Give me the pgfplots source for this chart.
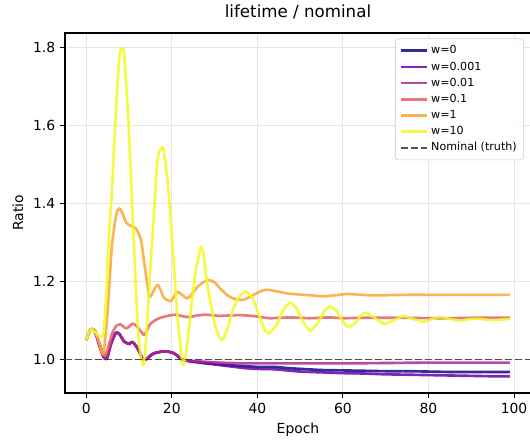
\documentclass[border=0pt]{standalone}
\usepackage{pgfplots}
\pgfplotsset{compat=1.18}
\usepackage{fontspec}
\setmainfont{DejaVu Sans}
\definecolor{c0}{HTML}{0D0887}
\definecolor{c1}{HTML}{6A00A8}
\definecolor{c2}{HTML}{B12A90}
\definecolor{c3}{HTML}{E16462}
\definecolor{c4}{HTML}{FCA636}
\definecolor{c5}{HTML}{F0F921}
\definecolor{gridc}{HTML}{E6E6E6}
\begin{document}
\begin{tikzpicture}[x=1pt,y=1pt]
\path[use as bounding box] (-46.8,-33.84) rectangle (334.8,282.96);
\begin{axis}[
  at={(0,0)}, anchor=south west,
  scale only axis, width=335.5pt, height=259.2pt,
  xmin=-4.95, xmax=103.95, ymin=0.914, ymax=1.838,
  xtick={0,20,40,60,80,100},
  ytick={1.0,1.2,1.4,1.6,1.8},
  yticklabel style={/pgf/number format/.cd, fixed, fixed zerofill, precision=1},
  /pgf/number format/assume math mode=true,
  tick label style={font=\fontsize{10}{12}\selectfont},
  xtick pos=left, ytick pos=left, tick align=outside,
  major tick length=3.5pt,
  every tick/.style={black, line width=0.8pt},
  axis line style={black, line width=0.8pt},
  grid=major, major grid style={gridc, line width=0.8pt},
  title={lifetime / nominal},
  title style={at={(axis description cs:0.5,1.036)}, anchor=center, font=\fontsize{12}{14}\selectfont},
  xlabel={Epoch},
  xlabel style={at={(axis description cs:0.5,-0.1028)}, anchor=center, font=\fontsize{10}{12}\selectfont},
  ylabel={Ratio},
  ylabel style={at={(axis description cs:-0.1009,0.5)}, anchor=center, font=\fontsize{10}{12}\selectfont},
  legend style={at={(0.985,0.985)}, anchor=north east, font=\fontsize{8}{9}\selectfont,
    draw=black!20, fill=white, fill opacity=0.8, text opacity=1, rounded corners=2pt,
    row sep=0.2pt, inner xsep=3pt, inner ysep=3pt},
  legend cell align=left,
  legend image code/.code={\draw[#1] (0pt,0pt) -- (19pt,0pt);},
  every axis plot/.append style={line width=1.9pt, line join=round, opacity=0.85},
]
% w=0
\addplot[c0, smooth, tension=0.4] coordinates {
(0,1.050) (1,1.077) (2,1.074) (3,1.040) (4,1.008) (4.8,1.002) (5.8,1.040) (6.9,1.068) (7.7,1.066) (8.9,1.046) (10.1,1.040) (10.8,1.045) (12,1.029) (13.2,1.002) (14,1.000) (15,1.010) (15.9,1.016) (17.5,1.020) (18.7,1.021) (20.3,1.017) (21.3,1.010) (22.2,1.001)
(23.5,0.997) (25,0.995) (28,0.991) (31,0.988) (34,0.985) (37,0.983) (40,0.981) (44,0.981) (47,0.978) (50,0.976) (55,0.973) (60,0.972) (65,0.971) (70,0.970) (75,0.970) (80,0.969) (85,0.968) (90,0.968) (95,0.968) (99,0.968)};
\addlegendentry{w=0}
% w=0.001
\addplot[c1, smooth, tension=0.4] coordinates {
(0,1.050) (1,1.077) (2,1.074) (3,1.040) (4,1.008) (4.8,1.002) (5.8,1.040) (6.9,1.068) (7.7,1.066) (8.9,1.046) (10.1,1.040) (10.8,1.045) (12,1.029) (13.2,1.002) (14,1.000) (15,1.010) (15.9,1.016) (17.5,1.020) (18.7,1.021) (20.3,1.017) (21.3,1.010) (22.2,1.001)
(23.5,0.997) (25,0.994) (28,0.990) (31,0.986) (34,0.982) (37,0.978) (40,0.976) (44,0.975) (47,0.972) (50,0.969) (55,0.967) (60,0.965) (65,0.964) (70,0.962) (75,0.961) (80,0.960) (85,0.959) (90,0.958) (95,0.957) (99,0.957)};
\addlegendentry{w=0.001}
% w=0.01
\addplot[c2, smooth, tension=0.4] coordinates {
(0,1.050) (1,1.077) (2,1.074) (3,1.040) (4,1.008) (4.8,1.002) (5.8,1.040) (6.9,1.068) (7.7,1.066) (8.9,1.046) (10.1,1.040) (10.8,1.045) (12,1.029) (13.2,1.002) (14,1.000) (15,1.010) (15.9,1.016) (17.5,1.020) (18.7,1.021) (20.3,1.017) (21.3,1.010) (22.2,1.001)
(23.5,0.998) (25,0.996) (28,0.994) (31,0.992) (34,0.991) (37,0.990) (40,0.990) (50,0.990) (60,0.990) (70,0.991) (80,0.992) (90,0.992) (99,0.992)};
\addlegendentry{w=0.01}
% w=0.1
\addplot[c3, smooth, tension=0.4] coordinates {
(0,1.050) (1,1.077) (2,1.074) (3,1.045) (4.2,1.010) (5,1.025) (6,1.065) (7,1.086) (8,1.090) (9.3,1.080) (10.1,1.085) (10.8,1.092) (11.6,1.088) (12.4,1.078) (13.6,1.063) (14.8,1.089) (16,1.100) (17.1,1.106) (19,1.112) (21,1.115) (22.5,1.111) (24.1,1.109) (26,1.113) (28,1.115) (31.1,1.112) (35.8,1.114) (39.5,1.111) (42.9,1.106) (47.5,1.108) (52.1,1.106) (56.8,1.108) (60,1.106) (65,1.107) (70,1.107) (75,1.107) (80,1.106) (85,1.106) (90,1.107) (95,1.107) (99,1.107)};
\addlegendentry{w=0.1}
% w=1
\addplot[c4, smooth, tension=0.4] coordinates {
(0,1.050) (1,1.077) (2,1.075) (3,1.045) (4,1.014) (5,1.120) (6,1.290) (7,1.370) (7.7,1.388) (8.5,1.375) (9.3,1.352) (10.1,1.345) (11,1.340) (11.6,1.337) (12.8,1.307) (13.8,1.230) (14.8,1.162) (15.7,1.175) (16.7,1.192) (17.5,1.175) (18.3,1.157) (19.8,1.150) (20.6,1.163) (21.4,1.174) (22.5,1.165) (23.7,1.157) (25,1.172) (26.1,1.187) (27.3,1.198) (28.6,1.204) (30,1.198) (31.5,1.180) (33,1.165) (34.3,1.157) (36.6,1.153) (38.5,1.162) (40.5,1.174) (42.1,1.179) (44,1.176) (46.8,1.170) (49.5,1.167) (52.3,1.165) (55,1.162) (57.5,1.164) (60.8,1.168) (63,1.167) (66,1.165) (70,1.165) (75,1.166) (80,1.166) (85,1.166) (90,1.166) (95,1.166) (99,1.166)};
\addlegendentry{w=1}
% w=10
\addplot[c5, smooth, tension=0.35] coordinates {
(0,1.050) (1,1.078) (2,1.072) (3,1.060) (4,1.065) (4.6,1.150) (5.4,1.330) (6,1.430) (6.8,1.606) (7.5,1.740) (8,1.792) (8.8,1.790) (9.9,1.606) (10.8,1.384) (11.5,1.210) (12.2,1.060) (13,0.993) (13.6,0.995) (14.5,1.140) (15.2,1.270) (15.9,1.384) (16.7,1.516) (17.9,1.545) (18.8,1.479) (19.6,1.384) (20.5,1.240) (21.5,1.090) (22.6,0.985) (23.5,1.030) (24.5,1.130) (25.5,1.220) (26.1,1.256) (26.9,1.290) (27.5,1.265) (28.2,1.200) (29,1.150) (30,1.093) (31,1.060) (31.9,1.050) (33,1.080) (34.3,1.127) (35.8,1.162) (37.4,1.174) (39,1.155) (40.5,1.110) (41.8,1.075) (42.9,1.068) (44.5,1.090) (46,1.125) (47.6,1.146) (49.2,1.130) (50.8,1.095) (52.4,1.074) (54.2,1.095) (55.6,1.123) (56.9,1.136) (58.5,1.125) (60,1.098) (61.2,1.083) (63,1.095) (64.2,1.113) (65.3,1.120) (67.3,1.108) (69.6,1.092) (71.8,1.100) (74.1,1.111) (76.5,1.104) (78.8,1.097) (80.8,1.104) (82.7,1.109) (85,1.104) (87.4,1.100) (89.3,1.103) (91.3,1.105) (93.5,1.102) (95.5,1.101) (97.5,1.103) (99,1.104)};
\addlegendentry{w=10}
% nominal
\addplot[black!80, line width=1.4pt, opacity=0.85, dash pattern=on 5pt off 2.2pt] coordinates {(-4.95,1.0) (103.95,1.0)};
\addlegendentry{Nominal (truth)}
\end{axis}
\end{tikzpicture}
\end{document}
